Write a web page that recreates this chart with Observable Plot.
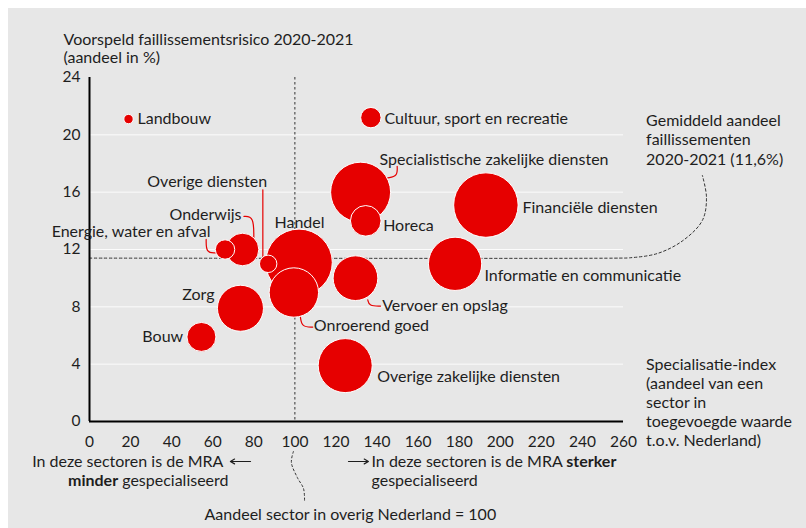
<!DOCTYPE html>
<html>
<head>
<meta charset="utf-8">
<script src="https://cdn.jsdelivr.net/npm/d3@7"></script>
<script src="https://cdn.jsdelivr.net/npm/@observablehq/plot@0.6"></script>
<style>
  html, body { margin: 0; padding: 0; background: #ffffff; }
  #wrap { position: relative; width: 806px; height: 528px; overflow: hidden; }
  #bg { position: absolute; left: 8px; top: 8px; width: 798px; height: 520px; background: #e7e7e7; }
  #chart { position: absolute; left: 0; top: 0; }
</style>
</head>
<body>
<div id="wrap"><div id="bg"></div><div id="chart"></div></div>
<script>
// ---- data ----
const sectoren = [
  "Landbouw", "Cultuur, sport en recreatie", "Specialistische zakelijke diensten", "Horeca",
  "Financiële diensten", "Informatie en communicatie", "Handel", "Onroerend goed",
  "Vervoer en opslag", "Overige zakelijke diensten", "Overige diensten", "Onderwijs",
  "Energie, water en afval", "Zorg", "Bouw"
];
const specialisatieIndex = [19, 137, 132, 134.5, 193, 178, 102, 99.5, 129.5, 124.5, 87, 74.5, 66, 73.5, 54.5];
const faillissementsrisico = [21.1, 21.2, 16.0, 14.0, 15.1, 11.0, 11.1, 9.0, 10.0, 3.9, 11.0, 12.0, 12.0, 7.9, 5.9];
const omvang = [2.2, 10.4, 90, 23.4, 104, 71, 111, 61, 50, 73, 7.6, 26.6, 9.4, 53, 21];

const xTicks = [0, 20, 40, 60, 80, 100, 120, 140, 160, 180, 200, 220, 240, 260];
const yTicks = [0, 4, 8, 12, 16, 20, 24];
const gridY = [4, 8, 12, 16, 20];
const gemiddeldAandeel = 11.4;   // drawn level of the average line
const referentieIndex = 100;

// label placement (offsets in px from bubble centre)
const labelLayout = [
  {anchor: "start", dx: 9, dy: 0},
  {anchor: "start", dx: 13.6, dy: 1},
  {anchor: "start", dx: 19, dy: -32.7},
  {anchor: "start", dx: 17.4, dy: 5},
  {anchor: "start", dx: 36.6, dy: 3},
  {anchor: "start", dx: 29.4, dy: 12.4},
  {anchor: "middle", dx: 0.5, dy: -40},
  {anchor: "start", dx: 20, dy: 33.7},
  {anchor: "start", dx: 26.7, dy: 27.3},
  {anchor: "start", dx: 32, dy: 11},
  {anchor: "end", dx: -1, dy: -82.3},
  {anchor: "end", dx: -1, dy: -35},
  {anchor: "end", dx: -14.6, dy: -18},
  {anchor: "end", dx: -26, dy: -13.5},
  {anchor: "end", dx: -18.3, dy: 0}
];

// connector lines (data coordinates)
const connectors = [
  {id: "spec", x: [145.2, 150, 149.8], y: [17.0, 17.1, 17.8], curve: "basis"},
  {id: "onderwijs", x: [75.2, 80.0, 80.0], y: [14.31, 14.31, 12.84], curve: "basis"},
  {id: "energie", x: [56.8, 56.8, 61.3], y: [12.7, 11.76, 11.76], curve: "basis"},
  {id: "overige", x: [84.4, 84.4], y: [16.17, 11.44], curve: "linear"},
  {id: "onroerend", x: [102.7, 103.4, 108.7], y: [7.28, 6.59, 6.59], curve: "basis"},
  {id: "vervoer", x: [135.5, 136.1, 141.7], y: [8.49, 8.06, 8.05], curve: "basis"}
];
const gemiddeldCurveX = [0, 258, 263, 276.5, 289, 298.4, 300.4, 298.4];
const gemiddeldCurveY = [gemiddeldAandeel, gemiddeldAandeel, 11.42, 11.72, 12.63, 14.03, 15.63, 17.17];
const referentieCurveX = [99.3, 98.3, 101.2, 104.2, 104.7];
const referentieCurveY = [-2.09, -2.86, -3.91, -4.68, -5.51];

// ---- build ----
const red = "#e60000";
const ink = "#1e1e1e";
const fs = 16;
const rows = sectoren.map((s, i) => ({
  sector: s, x: specialisatieIndex[i], y: faillissementsrisico[i], size: omvang[i], ...labelLayout[i]
}));
const connectorPts = connectors.flatMap(c => c.x.map((x, j) => ({id: c.id, x, y: c.y[j]})));
const toPts = (xs, ys) => xs.map((x, i) => ({x, y: ys[i]}));

// per-label offsets need individual marks (dx/dy are constants in Plot)
const perLabel = rows.map(d => Plot.text([d], {
  x: "x", y: "y", text: "sector", textAnchor: d.anchor, dx: d.dx, dy: d.dy, fill: ink, fontSize: fs
}));

const note = (txt, x, y, opts = {}) =>
  Plot.text([txt], {x, y, text: d => d, textAnchor: "start", fill: ink, fontSize: fs, ...opts});

const chart = Plot.plot({
  width: 806,
  height: 528,
  marginLeft: 89,
  marginRight: 183,
  marginTop: 77,
  marginBottom: 107,
  style: {background: "transparent", fontFamily: "Lato, 'Noto Sans', sans-serif", fontSize: "16px", color: ink},
  x: {domain: [0, 260]},
  y: {domain: [0, 24]},
  r: {type: "sqrt", domain: [0, 111], range: [0, 33.3]},
  marks: [
    Plot.ruleY(gridY, {stroke: "#ffffff", strokeWidth: 1, strokeOpacity: 0.85}),
    Plot.ruleX([referentieIndex], {stroke: "#333", strokeWidth: 1, strokeDasharray: "2.5,2.5"}),
    Plot.line(toPts(gemiddeldCurveX, gemiddeldCurveY), {x: "x", y: "y", curve: "catmull-rom", stroke: "#333", strokeWidth: 1, strokeDasharray: "2.5,2.5"}),
    Plot.line(toPts(referentieCurveX, referentieCurveY), {x: "x", y: "y", curve: "catmull-rom", stroke: "#333", strokeWidth: 1, strokeDasharray: "2,2.5"}),
    Plot.ruleX([0], {stroke: "#000", strokeWidth: 2}),
    Plot.ruleY([0], {stroke: "#000", strokeWidth: 2}),
    Plot.axisX({ticks: xTicks, tickSize: 0, tickPadding: 14, fontSize: 15.5, label: null, fill: ink}),
    Plot.axisY({ticks: yTicks, tickSize: 0, tickPadding: 9, fontSize: 15.5, label: null, fill: ink}),
    ...connectors.map(c => Plot.line(connectorPts.filter(p => p.id === c.id), {x: "x", y: "y", curve: c.curve, stroke: red, strokeWidth: 1.2})),
    Plot.dot(rows, {x: "x", y: "y", r: "size", fill: red, stroke: "#ffffff", strokeWidth: 1, sort: {channel: "r", order: "descending"}}),
    ...perLabel,
    // axis titles and annotations
    note("Voorspeld faillissementsrisico 2020-2021\n(aandeel in %)", -12.66, 26.03, {lineHeight: 1.125}),
    note("Gemiddeld aandeel\nfaillissementen\n2020-2021 (11,6%)", 271, 19.7, {lineHeight: 1.22}),
    note("Specialisatie-index\n(aandeel van een\nsector in\ntoegevoegde waarde\nt.o.v. Nederland)", 271, 1.37, {lineHeight: 1.19}),
    note("In deze sectoren is de MRA", 65.2, -2.79, {textAnchor: "end"}),
    note("minder gespecialiseerd", 67.7, -4.12, {textAnchor: "end"}),
    note("In deze sectoren is de MRA sterker", 137.3, -2.79),
    note("gespecialiseerd", 137.3, -4.12),
    note("Aandeel sector in overig Nederland = 100", 56, -6.49),
    Plot.arrow([{x1: 78.4, x2: 68.6, y: -2.79}], {x1: "x1", x2: "x2", y1: "y", y2: "y", stroke: ink, strokeWidth: 1.2, headLength: 6}),
    Plot.arrow([{x1: 126.1, x2: 135.8, y: -2.79}], {x1: "x1", x2: "x2", y1: "y", y2: "y", stroke: ink, strokeWidth: 1.2, headLength: 6})
  ]
});

// bold words inside the explanatory lines
chart.querySelectorAll("text").forEach(t => {
  const s = t.textContent;
  const setParts = parts => {
    while (t.firstChild) t.removeChild(t.firstChild);
    parts.forEach(([txt, bold]) => {
      const ts = document.createElementNS("http://www.w3.org/2000/svg", "tspan");
      ts.textContent = txt;
      if (bold) ts.setAttribute("font-weight", "bold");
      t.appendChild(ts);
    });
  };
  if (s === "minder gespecialiseerd") setParts([["minder", true], [" gespecialiseerd", false]]);
  if (s === "In deze sectoren is de MRA sterker") setParts([["In deze sectoren is de MRA ", false], ["sterker", true]]);
});

document.getElementById("chart").appendChild(chart);
</script>
</body>
</html>
